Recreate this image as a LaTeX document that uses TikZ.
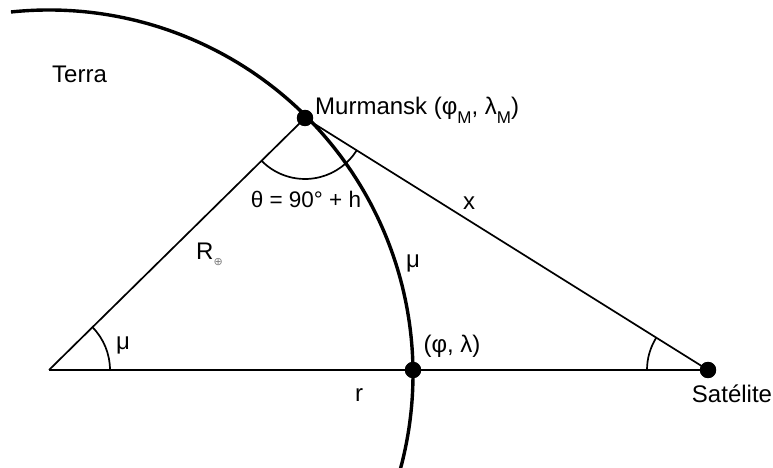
\documentclass[tikz,border=0pt]{standalone}
\usepackage{fontspec}
\setmainfont{Liberation Sans}
\newfontfamily\dejavu{DejaVu Sans}
\newcommand{\subM}{\raisebox{-0.65ex}{\fontsize{17}{17}\selectfont M}}
\begin{document}
\begin{tikzpicture}[x=1pt,y=1pt,
  thinline/.style={line width=1.7pt,black},
  earth/.style={line width=3.4pt,black},
  dotnode/.style={circle,fill=black,inner sep=0pt,minimum size=16pt},
  lbl/.style={inner sep=0pt,font=\fontsize{24}{28}\selectfont}]
\useasboundingbox (0,0) rectangle (773,468);
% points
\coordinate (O) at (49,98);
\coordinate (C) at (49,94);
\node[dotnode] (M) at (305,350) {};
\node[dotnode] (P) at (413,98) {};
\node[dotnode] (S) at (708,98) {};
% triangle
\draw[thinline] (O) -- (M.center);
\draw[thinline] (M.center) -- (S.center);
\draw[thinline] (O) -- (S.center);
% earth arc
\draw[earth] (C) ++(96:364) arc[start angle=96,end angle=-15,radius=364];
% redraw dots on top
\fill (M) circle (8.2);
\fill (P) circle (8.2);
\fill (S) circle (8.2);
% angle marks
\draw[thinline] (O) ++(0:61) arc[start angle=0,end angle=44.5,radius=61];
\draw[thinline] (M.center) ++(224.5:61) arc[start angle=224.5,end angle=328.2,radius=61];
\draw[thinline] (S.center) ++(148.2:61) arc[start angle=148.2,end angle=180,radius=61];
% labels
\node[lbl,anchor=west] (terra) at (52,394) {Terra};
\node[lbl,anchor=base west] (mlbl) at (315,353) {Murmansk (φ\subM, λ\subM)};
\node[lbl,anchor=base,font=\fontsize{22.5}{26}\selectfont] (theta) at (306,260) {θ = 90° + h};
\node[lbl] (xl) at (469,265) {x};
\node[lbl,anchor=base west] (rl) at (196,208) {R\raisebox{-0.45ex}{\color{gray}\dejavu\fontsize{11}{11}\selectfont ⊕}};
\node[lbl] (mu1) at (123,123) {μ};
\node[lbl] (mu2) at (413,205) {μ};
\node[lbl] (pl) at (452,122) {(φ, λ)};
\node[lbl] (rr) at (359,73) {r};
\node[lbl] (sl) at (732,74) {Satélite};
\end{tikzpicture}
\end{document}
